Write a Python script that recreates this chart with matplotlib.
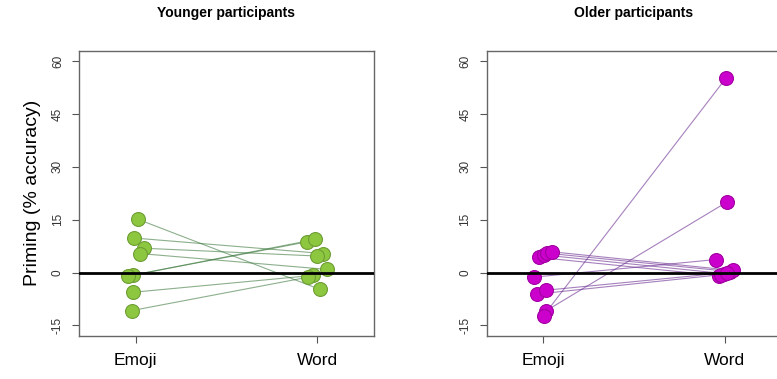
import matplotlib.pyplot as plt

plt.rcParams['font.family'] = ['Liberation Sans', 'DejaVu Sans']

conditions = ["Emoji", "Word"]
y_ticks = [-15, 0, 15, 30, 45, 60]

# priming scores per participant (emoji, word), with small horizontal jitter
young_emoji = [15.1, 9.8, 6.9, 5.4, -0.7, -1.0, -5.6, -10.8]
young_word = [-4.8, 5.4, 4.7, 0.9, 8.7, 9.4, -0.8, -1.3]
young_emoji_jit = [0.014, -0.008, 0.047, 0.024, -0.013, -0.041, -0.016, -0.022]
young_word_jit = [0.015, 0.033, -0.003, 0.052, -0.058, -0.013, -0.022, -0.050]

old_emoji = [4.3, 5.0, 5.5, 5.9, -1.3, -6.1, -5.0, -10.8, -12.2]
old_word = [-0.9, -0.3, 0.3, 0.6, 3.7, -0.6, 0.0, 20.0, 55.1]
old_emoji_jit = [-0.024, 0.003, 0.022, 0.049, -0.051, -0.033, 0.018, 0.018, 0.003]
old_word_jit = [-0.031, -0.003, 0.029, 0.047, -0.049, -0.020, 0.013, 0.011, 0.005]


def draw_panel(ax, emoji, word, ej, wj, fill, edge, line, title):
    for i in range(len(emoji)):
        xs = [1 + ej[i], 2 + wj[i]]
        ys = [emoji[i], word[i]]
        ax.plot(xs, ys, color=line, lw=0.8, alpha=0.6, zorder=2)
    ax.scatter([1 + j for j in ej], emoji, s=100, color=fill, edgecolors=edge,
               linewidths=0.8, zorder=3)
    ax.scatter([2 + j for j in wj], word, s=100, color=fill, edgecolors=edge,
               linewidths=0.8, zorder=3)
    ax.axhline(0, color='black', lw=2, zorder=4)

    ax.set_xlim(0.69, 2.31)
    ax.set_ylim(-18, 63)
    ax.set_xticks([1, 2])
    ax.set_xticklabels(conditions, fontsize=12.5)
    ax.set_yticks(y_ticks)
    ax.set_yticklabels([str(t) for t in y_ticks], rotation=90, va='center',
                       fontsize=8.5, color='#333333')
    ax.tick_params(axis='both', direction='out', length=5, width=0.8,
                   color='#555555')
    ax.tick_params(axis='x', pad=7)
    ax.tick_params(axis='y', pad=6)
    for s in ax.spines.values():
        s.set_color('#666666')
        s.set_linewidth(1)
    ax.set_title(title, fontsize=10, fontweight='bold', pad=24)


fig = plt.figure(figsize=(7.77, 3.79), dpi=100)
ax1 = fig.add_axes([0.102, 0.1135, 0.379, 0.753])
ax2 = fig.add_axes([0.6264, 0.1135, 0.379, 0.753])

draw_panel(ax1, young_emoji, young_word, young_emoji_jit, young_word_jit,
           '#8DC63F', '#6E9E35', '#3F7A3F', "Younger participants")
draw_panel(ax2, old_emoji, old_word, old_emoji_jit, old_word_jit,
           '#CC00CC', '#A000A0', '#6A2C91', "Older participants")

ax1.set_ylabel("Priming (% accuracy)", fontsize=14, labelpad=8)

fig.savefig("out.png", dpi=100)
